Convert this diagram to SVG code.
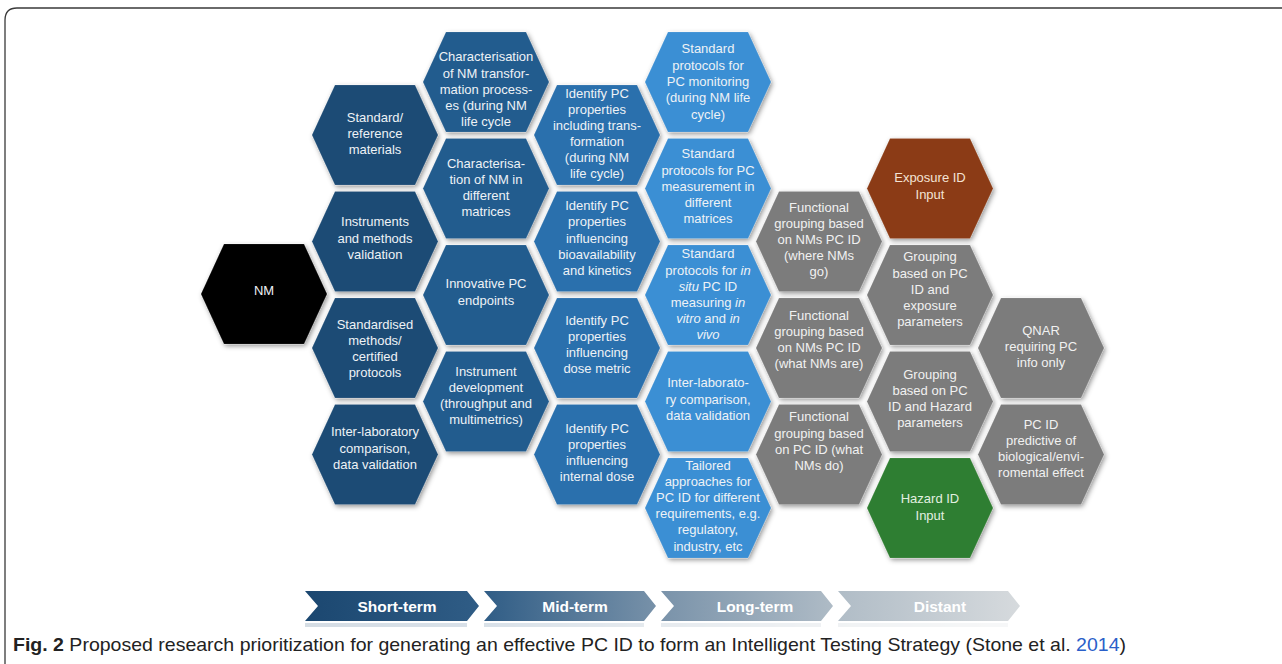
<svg xmlns="http://www.w3.org/2000/svg" xmlns:xlink="http://www.w3.org/1999/xlink" width="1282" height="664" viewBox="0 0 1282 664">
<style>
.t{font-family:"Liberation Sans",Arial,Helvetica,sans-serif;font-size:13px;fill:#eef2f6;text-anchor:middle}
.tg{fill:#f1f1f1}
.hx{filter:url(#sh);stroke:rgba(255,255,255,0.12);stroke-width:1}
.c0{fill:#000000}
.c1{fill:#1c4b75}
.c2{fill:#235c8e}
.c3{fill:#2b70ad}
.c4{fill:#3b8fd4}
.cg{fill:#7b7b7b}
.ce{fill:#8b3b14}
.ch{fill:#2f7e30}
.ar{fill:url(#ag)}
.at{font-family:"Liberation Sans",Arial,Helvetica,sans-serif;font-size:15.5px;font-weight:bold;fill:#ffffff;text-anchor:middle}
.cap{font-family:"Liberation Sans",Arial,Helvetica,sans-serif;font-size:19px;fill:#222222}
</style>
<defs>
<path id="hex" d="M-63,0 L-40,-50 L40,-50 L63,0 L40,50 L-40,50 Z"/>
<filter id="sh" x="-20%" y="-20%" width="140%" height="140%">
<feDropShadow dx="1.5" dy="2" stdDeviation="2.6" flood-color="#000" flood-opacity="0.42"/>
</filter>
<linearGradient id="ag" gradientUnits="userSpaceOnUse" x1="305" y1="0" x2="1020" y2="0">
<stop offset="0" stop-color="#1b4770"/>
<stop offset="0.25" stop-color="#305d86"/>
<stop offset="0.5" stop-color="#7a93aa"/>
<stop offset="0.75" stop-color="#b1bdc7"/>
<stop offset="1" stop-color="#d6dadd"/>
</linearGradient>
</defs>
<rect width="1282" height="664" fill="#ffffff"/>
<path d="M5,664 V20 Q5,8 17,8 H1282" fill="none" stroke="#3a3a3a" stroke-width="1.3"/>

<g id="nodes">
<g id="nm"><use href="#hex" x="264" y="294" class="hx c0"/>
<text class="t"><tspan x="264" y="294.5">NM</tspan></text></g>

<g id="s1"><use href="#hex" x="375" y="135" class="hx c1"/>
<text class="t"><tspan x="375" y="121.5">Standard/</tspan><tspan x="375" y="137.5">reference</tspan><tspan x="375" y="153.5">materials</tspan></text></g>
<g id="s2"><use href="#hex" x="375" y="241.5" class="hx c1"/>
<text class="t"><tspan x="375" y="226">Instruments</tspan><tspan x="375" y="242.5">and methods</tspan><tspan x="375" y="259">validation</tspan></text></g>
<g id="s3"><use href="#hex" x="375" y="348" class="hx c1"/>
<text class="t"><tspan x="375" y="329">Standardised</tspan><tspan x="375" y="345">methods/</tspan><tspan x="375" y="361">certified</tspan><tspan x="375" y="377">protocols</tspan></text></g>
<g id="s4"><use href="#hex" x="375" y="454.5" class="hx c1"/>
<text class="t"><tspan x="375" y="436">Inter-laboratory</tspan><tspan x="375" y="452.5">comparison,</tspan><tspan x="375" y="468.5">data validation</tspan></text></g>

<g id="m1"><use href="#hex" x="486" y="82" class="hx c2"/>
<text class="t"><tspan x="486" y="61">Characterisation</tspan><tspan x="486" y="77.5">of NM transfor-</tspan><tspan x="486" y="93.5">mation process-</tspan><tspan x="486" y="109.5">es (during NM</tspan><tspan x="486" y="126">life cycle</tspan></text></g>
<g id="m2"><use href="#hex" x="486" y="188.5" class="hx c2"/>
<text class="t"><tspan x="486" y="167.5">Characterisa-</tspan><tspan x="486" y="183.5">tion of NM in</tspan><tspan x="486" y="199.5">different</tspan><tspan x="486" y="215.5">matrices</tspan></text></g>
<g id="m3"><use href="#hex" x="486" y="295" class="hx c2"/>
<text class="t"><tspan x="486" y="288">Innovative PC</tspan><tspan x="486" y="304.5">endpoints</tspan></text></g>
<g id="m4"><use href="#hex" x="486" y="401.5" class="hx c2"/>
<text class="t"><tspan x="486" y="376">Instrument</tspan><tspan x="486" y="392">development</tspan><tspan x="486" y="408">(throughput and</tspan><tspan x="486" y="424">multimetrics)</tspan></text></g>

<g id="i1"><use href="#hex" x="597" y="135" class="hx c3"/>
<text class="t"><tspan x="597" y="98">Identify PC</tspan><tspan x="597" y="114">properties</tspan><tspan x="597" y="130">including trans-</tspan><tspan x="597" y="146">formation</tspan><tspan x="597" y="162">(during NM</tspan><tspan x="597" y="178">life cycle)</tspan></text></g>
<g id="i2"><use href="#hex" x="597" y="241.5" class="hx c3"/>
<text class="t"><tspan x="597" y="209.5">Identify PC</tspan><tspan x="597" y="226">properties</tspan><tspan x="597" y="242.5">influencing</tspan><tspan x="597" y="258.5">bioavailability</tspan><tspan x="597" y="275">and kinetics</tspan></text></g>
<g id="i3"><use href="#hex" x="597" y="348" class="hx c3"/>
<text class="t"><tspan x="597" y="324.5">Identify PC</tspan><tspan x="597" y="341">properties</tspan><tspan x="597" y="357">influencing</tspan><tspan x="597" y="373">dose metric</tspan></text></g>
<g id="i4"><use href="#hex" x="597" y="454.5" class="hx c3"/>
<text class="t"><tspan x="597" y="433">Identify PC</tspan><tspan x="597" y="449">properties</tspan><tspan x="597" y="465">influencing</tspan><tspan x="597" y="481">internal dose</tspan></text></g>

<g id="p1"><use href="#hex" x="708" y="82" class="hx c4"/>
<text class="t"><tspan x="708" y="53">Standard</tspan><tspan x="708" y="69.5">protocols for</tspan><tspan x="708" y="85.5">PC monitoring</tspan><tspan x="708" y="102">(during NM life</tspan><tspan x="708" y="118.5">cycle)</tspan></text></g>
<g id="p2"><use href="#hex" x="708" y="188.5" class="hx c4"/>
<text class="t"><tspan x="708" y="158">Standard</tspan><tspan x="708" y="174.5">protocols for PC</tspan><tspan x="708" y="190.5">measurement in</tspan><tspan x="708" y="207">different</tspan><tspan x="708" y="223">matrices</tspan></text></g>
<g id="p3"><use href="#hex" x="708" y="295" class="hx c4"/>
<text class="t"><tspan x="708" y="258">Standard</tspan><tspan x="708" y="274.5">protocols for <tspan font-style="italic">in</tspan></tspan><tspan x="708" y="290.5"><tspan font-style="italic">situ</tspan> PC ID</tspan><tspan x="708" y="306.5">measuring <tspan font-style="italic">in</tspan></tspan><tspan x="708" y="322.5"><tspan font-style="italic">vitro</tspan> and <tspan font-style="italic">in</tspan></tspan><tspan x="708" y="338.5" font-style="italic">vivo</tspan></text></g>
<g id="p4"><use href="#hex" x="708" y="401.5" class="hx c4"/>
<text class="t"><tspan x="708" y="387">Inter-laborato-</tspan><tspan x="708" y="403.5">ry comparison,</tspan><tspan x="708" y="419.5">data validation</tspan></text></g>
<g id="p5"><use href="#hex" x="708" y="508" class="hx c4"/>
<text class="t"><tspan x="708" y="469.5">Tailored</tspan><tspan x="708" y="485.7">approaches for</tspan><tspan x="708" y="501.9">PC ID for different</tspan><tspan x="708" y="518.1">requirements, e.g.</tspan><tspan x="708" y="534.3">regulatory,</tspan><tspan x="708" y="550.5">industry, etc</tspan></text></g>

<g id="f1"><use href="#hex" x="819" y="241.5" class="hx cg"/>
<text class="t tg"><tspan x="819" y="212">Functional</tspan><tspan x="819" y="228">grouping based</tspan><tspan x="819" y="244">on NMs PC ID</tspan><tspan x="819" y="260">(where NMs</tspan><tspan x="819" y="276">go)</tspan></text></g>
<g id="f2"><use href="#hex" x="819" y="348" class="hx cg"/>
<text class="t tg"><tspan x="819" y="319.5">Functional</tspan><tspan x="819" y="336">grouping based</tspan><tspan x="819" y="352">on NMs PC ID</tspan><tspan x="819" y="368">(what NMs are)</tspan></text></g>
<g id="f3"><use href="#hex" x="819" y="454.5" class="hx cg"/>
<text class="t tg"><tspan x="819" y="421">Functional</tspan><tspan x="819" y="437.5">grouping based</tspan><tspan x="819" y="454">on PC ID (what</tspan><tspan x="819" y="470">NMs do)</tspan></text></g>

<g id="exp"><use href="#hex" x="930" y="188.5" class="hx ce"/>
<text class="t" style="fill:#f4e3d4"><tspan x="930" y="182">Exposure ID</tspan><tspan x="930" y="198.5">Input</tspan></text></g>
<g id="g1"><use href="#hex" x="930" y="295" class="hx cg"/>
<text class="t tg"><tspan x="930" y="261">Grouping</tspan><tspan x="930" y="277.5">based on PC</tspan><tspan x="930" y="293.5">ID and</tspan><tspan x="930" y="309.5">exposure</tspan><tspan x="930" y="325.5">parameters</tspan></text></g>
<g id="g2"><use href="#hex" x="930" y="401.5" class="hx cg"/>
<text class="t tg"><tspan x="930" y="378.5">Grouping</tspan><tspan x="930" y="394.5">based on PC</tspan><tspan x="930" y="410.5">ID and Hazard</tspan><tspan x="930" y="427">parameters</tspan></text></g>
<g id="haz"><use href="#hex" x="930" y="508" class="hx ch"/>
<text class="t" style="fill:#e2f0e0"><tspan x="930" y="503">Hazard ID</tspan><tspan x="930" y="519.5">Input</tspan></text></g>

<g id="q1"><use href="#hex" x="1041" y="348" class="hx cg"/>
<text class="t tg"><tspan x="1041" y="335">QNAR</tspan><tspan x="1041" y="351">requiring PC</tspan><tspan x="1041" y="367">info only</tspan></text></g>
<g id="q2"><use href="#hex" x="1041" y="454.5" class="hx cg"/>
<text class="t tg"><tspan x="1041" y="428.5">PC ID</tspan><tspan x="1041" y="445">predictive of</tspan><tspan x="1041" y="461">biological/envi-</tspan><tspan x="1041" y="477">romental effect</tspan></text></g>
</g>

<g id="connectors"></g>

<g id="timeline">
<g opacity="0.18">
<rect x="305" y="623" width="162" height="4" class="ar"/>
<rect x="484" y="623" width="160" height="4" class="ar"/>
<rect x="661" y="623" width="160" height="4" class="ar"/>
<rect x="838" y="623" width="170" height="4" class="ar"/>
</g>
<path class="ar" d="M305,591 H467 L479,606 L467,621 H305 L318,606 Z"/>
<path class="ar" d="M484,591 H644 L656,606 L644,621 H484 L497,606 Z"/>
<path class="ar" d="M661,591 H821 L833,606 L821,621 H661 L674,606 Z"/>
<path class="ar" d="M838,591 H1008 L1020,606 L1008,621 H838 L851,606 Z"/>
<text class="at" x="397" y="611.5">Short-term</text>
<text class="at" x="575" y="611.5">Mid-term</text>
<text class="at" x="755" y="611.5">Long-term</text>
<text class="at" x="940" y="611.5">Distant</text>
</g>

<text class="cap" x="13" y="651" textLength="1113" lengthAdjust="spacingAndGlyphs"><tspan font-weight="bold">Fig. 2</tspan> Proposed research prioritization for generating an effective PC ID to form an Intelligent Testing Strategy (Stone et al. <tspan fill="#2a5fc9">2014</tspan>)</text>
</svg>
